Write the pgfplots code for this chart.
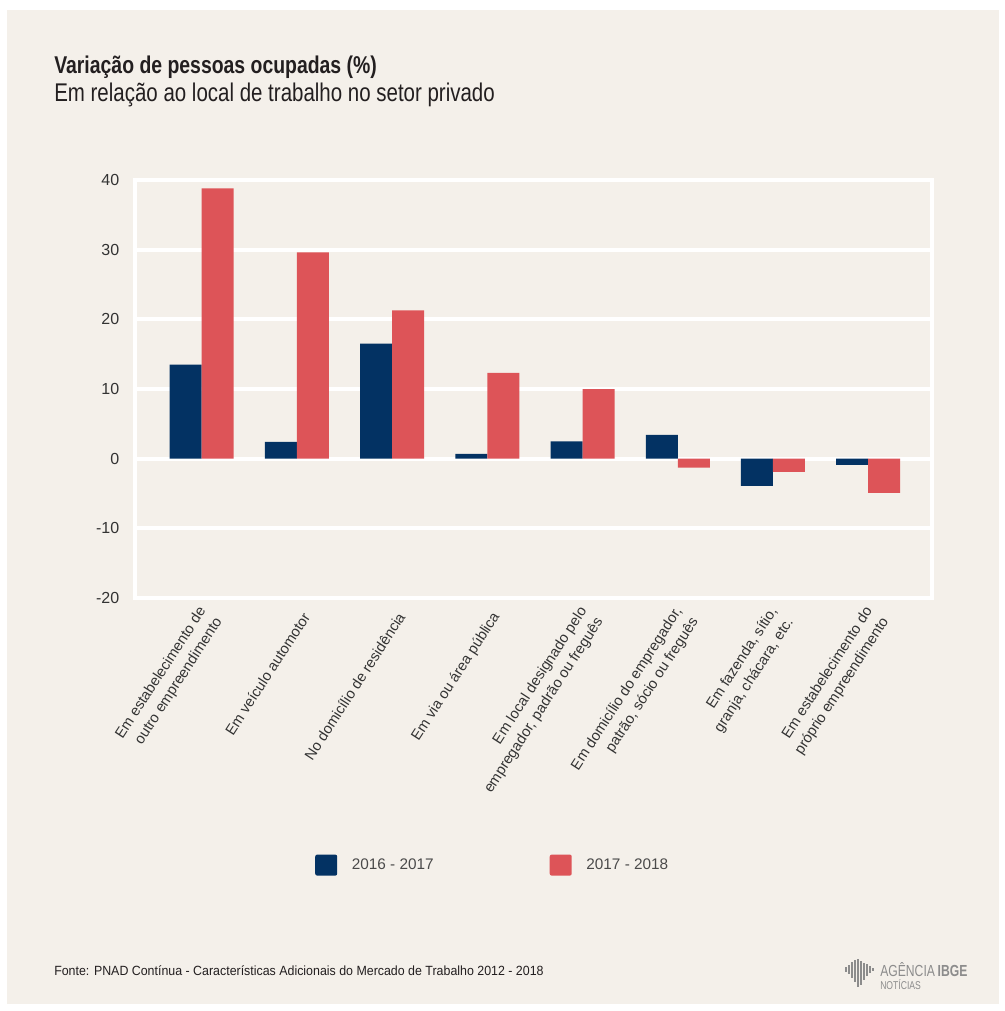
\documentclass[border=0pt]{standalone}
\usepackage{pgfplots}
\pgfplotsset{compat=1.18}
\usepackage{fontspec}
\setmainfont{Liberation Sans}
\newfontfamily\condfont[FakeStretch=0.80]{Liberation Sans}
\newfontfamily\footfont[FakeStretch=0.93]{Liberation Sans}
\newfontfamily\logofont[FakeStretch=0.76]{Liberation Sans}
\definecolor{bg}{HTML}{F4F0EA}
\definecolor{navy}{HTML}{033263}
\definecolor{coral}{HTML}{DD5458}
\definecolor{txt}{HTML}{231F20}
\definecolor{ticktxt}{HTML}{333333}
\definecolor{legtxt}{HTML}{4A4A4A}
\definecolor{logo}{HTML}{8C8C8C}
\begin{document}
\begin{tikzpicture}
\begin{scope}[x=0.75pt,y=-0.75pt]
\fill[white] (0,0) rectangle (1004,1011);
\fill[bg] (7,10) rectangle (999,1004);
\node[anchor=base west, inner sep=0pt, text=txt, font=\condfont\bfseries\fontsize{18.2}{20}\selectfont] at (54,73) {Variação de pessoas ocupadas (\%)};
\node[anchor=base west, inner sep=0pt, text=txt, font=\condfont\fontsize{19.2}{21}\selectfont] at (54,101.5) {Em relação ao local de trabalho no setor privado};
\node[anchor=base west, inner sep=0pt, text=txt, font=\footfont\fontsize{10}{11}\selectfont] at (54,975) {Fonte: PNAD Contínua - Características Adicionais do Mercado de Trabalho 2012 - 2018};
% logo
\foreach \xx/\ya/\yb in {846/967/972, 849/965/974, 852/962/978, 855/960/982, 858/959/987, 861/961/985, 864/963/980, 867/964/976, 870/966/973, 873/968/971}
  \draw[logo, line width=1.5pt] (\xx,\ya) -- (\xx,\yb);
\node[anchor=base west, inner sep=0pt, text=logo, font=\logofont\fontsize{12}{13}\selectfont] at (880,976) {AGÊNCIA\,\textbf{IBGE}};
\node[anchor=base west, inner sep=0pt, text=logo, font=\logofont\fontsize{8.5}{9}\selectfont] at (880,989) {NOTÍCIAS};
\end{scope}
\begin{axis}[
  at={(101.25pt,-448.5pt)}, anchor=south west,
  scale only axis, width=597.75pt, height=313.5pt,
  ymin=-20, ymax=40, ytick={-20,-10,0,10,20,30,40},
  xmin=-0.7, xmax=7.67,
  xtick={0.1,1.1,2.1,3.1,4.1,5.1,6.1,7.1},
  xticklabels={
    {Em estabelecimento de\\outro empreendimento},
    {Em veículo automotor},
    {No domicílio de residência},
    {Em via ou área pública},
    {Em local designado pelo\\empregador, padrão ou freguês},
    {Em domicílio do empregador,\\patrão, sócio ou freguês},
    {Em fazenda, sítio,\\granja, chácara, etc.},
    {Em estabelecimento do\\próprio empreendimento}},
  xticklabel style={rotate=57, anchor=east, align=right, font=\fontsize{11}{14.5}\selectfont, text=ticktxt, inner sep=0pt},
  xticklabel shift=12pt,
  yticklabel style={anchor=east, font=\fontsize{12}{14}\selectfont, text=ticktxt, inner sep=0pt},
  yticklabel shift=11.6pt,
  /pgf/number format/assume math mode=true,
  major tick length=0pt,
  axis line style={white, line width=3.2pt},
  ymajorgrids, grid style={white, line width=3.2pt},
  ybar=0pt, bar width=24pt,
  legend style={at={(0.2258,-0.639)}, anchor=west, draw=none, fill=none, inner sep=0pt,
    font=\fontsize{11.5}{13}\selectfont, text=legtxt,
    /tikz/every odd column/.append style={column sep=11pt},
    /tikz/every even column/.append style={column sep=87pt},
    nodes={inner sep=0pt}},
  legend columns=2,
]
\addplot[fill=navy, draw=none, legend image code/.code={\fill[navy, rounded corners=1.5pt] (0pt,-7.9pt) rectangle (16.5pt,7.9pt);}]
  coordinates {(0,13.5) (1,2.4) (2,16.5) (3,0.7) (4,2.5) (5,3.4) (6,-3.9) (7,-0.9)};
\addlegendentry{2016 - 2017}
\addplot[fill=coral, draw=none, legend image code/.code={\fill[coral, rounded corners=1.5pt] (0pt,-7.9pt) rectangle (16.5pt,7.9pt);}]
  coordinates {(0,38.8) (1,29.6) (2,21.3) (3,12.3) (4,10.0) (5,-1.3) (6,-1.9) (7,-4.9)};
\addlegendentry{2017 - 2018}
\end{axis}
\end{tikzpicture}
\end{document}
